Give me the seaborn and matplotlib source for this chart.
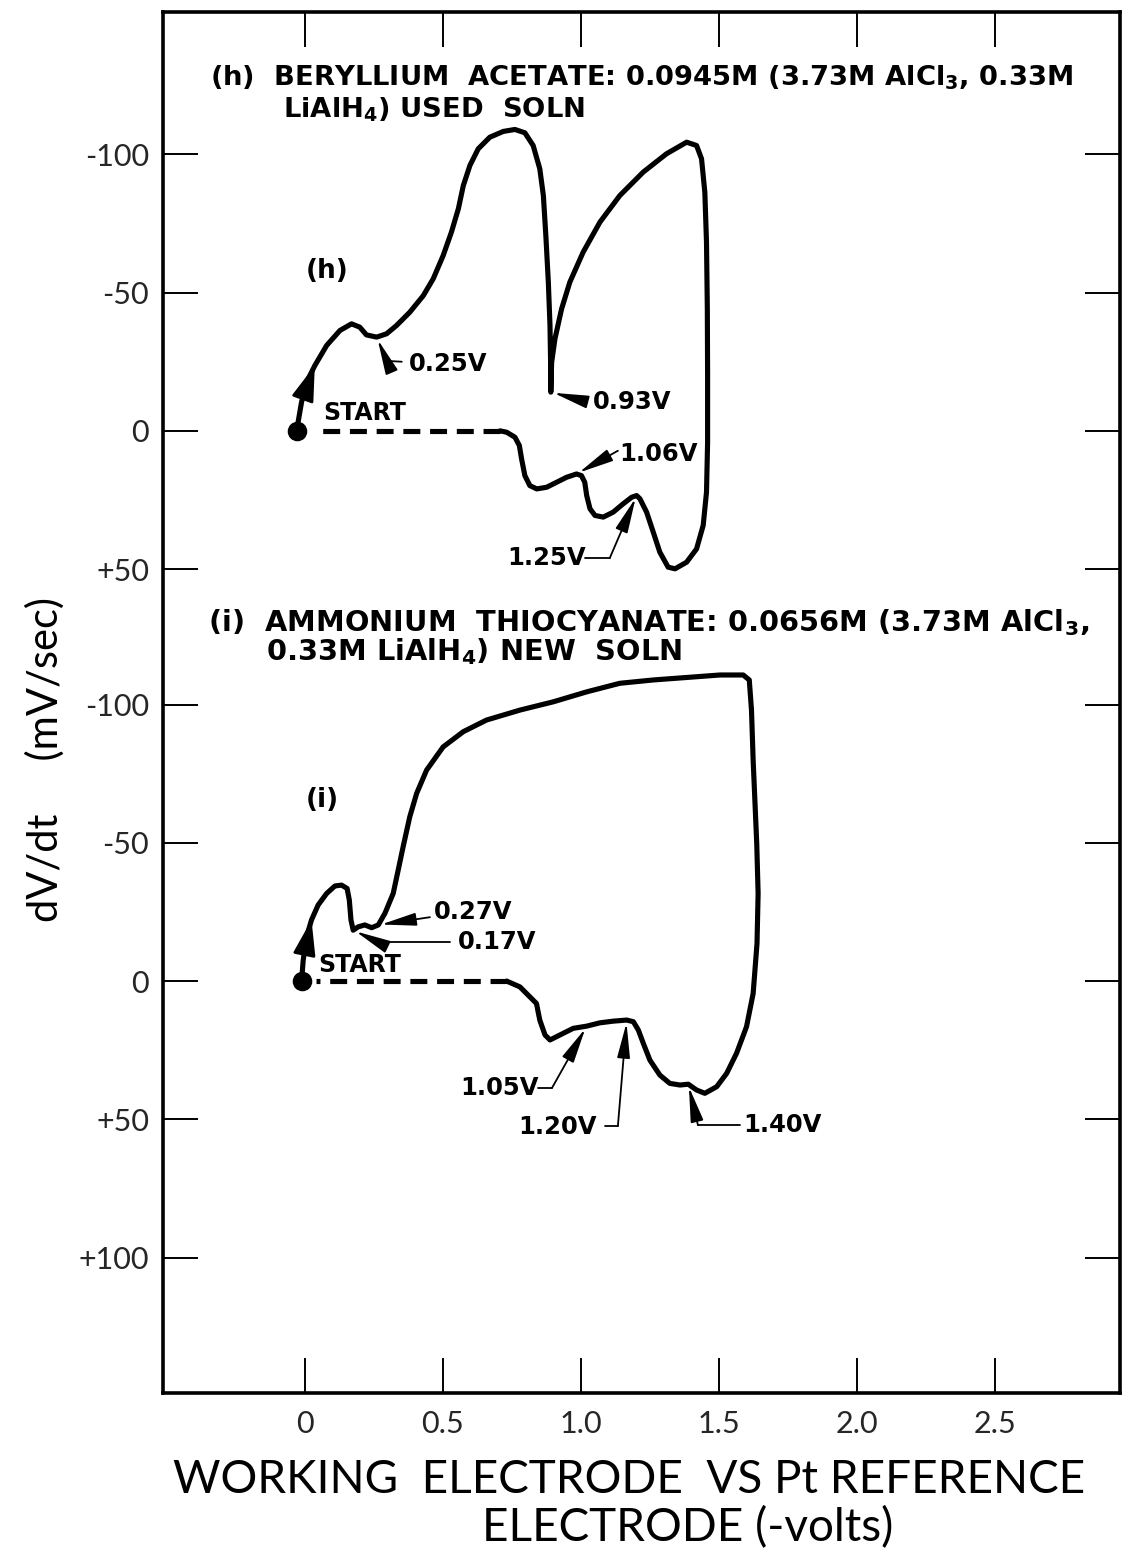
import numpy as np
import pandas as pd
import matplotlib
matplotlib.use("Agg")
import matplotlib.pyplot as plt
import seaborn as sns

# ---- trace (h): beryllium acetate, used solution ----
h_volts = [-0.030, -0.012, 0.006, 0.036, 0.079, 0.127, 0.169, 0.199, 0.223, 0.260,
           0.296, 0.332, 0.380, 0.429, 0.465, 0.501, 0.531, 0.556, 0.574, 0.598,
           0.628, 0.670, 0.719, 0.761, 0.797, 0.827, 0.851, 0.864, 0.873, 0.882,
           0.888, 0.890, 0.891, 0.894, 0.906, 0.930, 0.960, 1.008, 1.069, 1.141,
           1.226, 1.310, 1.383, 1.419, 1.437, 1.449, 1.455, 1.458, 1.459, 1.459,
           1.455, 1.443, 1.419, 1.383, 1.341, 1.316, 1.286, 1.262, 1.238, 1.214,
           1.202, 1.184, 1.153, 1.117, 1.081, 1.051, 1.033, 1.021, 1.014, 1.002,
           0.984, 0.948, 0.912, 0.876, 0.840, 0.815, 0.797, 0.785, 0.777, 0.761,
           0.731, 0.707]
h_rate = [0.0, -10.4, -17.6, -23.6, -30.9, -36.3, -38.7, -37.5, -34.7, -33.9,
          -35.1, -38.1, -42.9, -48.9, -55.0, -63.4, -71.9, -80.3, -88.7, -96.0,
          -102.0, -106.2, -108.3, -109.0, -107.8, -103.2, -94.8, -85.1, -70.6, -53.8,
          -38.1, -26.0, -14.0, -24.8, -33.3, -44.1, -53.8, -64.6, -75.5, -85.1,
          -93.6, -100.2, -104.4, -103.2, -98.4, -86.3, -68.2, -44.1, -20.0, 4.1,
          22.2, 34.2, 42.7, 47.5, 49.9, 49.3, 43.9, 36.6, 29.4, 24.6,
          23.4, 24.0, 26.4, 29.4, 31.2, 30.6, 28.2, 23.4, 18.6, 16.2,
          15.6, 16.8, 18.6, 20.4, 21.0, 19.8, 16.2, 10.1, 5.3, 2.3,
          0.5, 0.0]
h_return_volts = [0.707, 0.054]
h_return_rate = [0.0, 0.0]

# ---- trace (i): ammonium thiocyanate, new solution ----
i_volts = [-0.012, -0.006, 0.006, 0.024, 0.048, 0.079, 0.109, 0.133, 0.153, 0.161,
           0.167, 0.175, 0.193, 0.217, 0.242, 0.266, 0.290, 0.320, 0.338, 0.356,
           0.380, 0.405, 0.441, 0.501, 0.574, 0.658, 0.779, 0.900, 1.021, 1.141,
           1.262, 1.383, 1.504, 1.588, 1.610, 1.618, 1.624, 1.637, 1.642, 1.638,
           1.624, 1.600, 1.564, 1.528, 1.492, 1.449, 1.419, 1.389, 1.359, 1.322,
           1.286, 1.250, 1.226, 1.208, 1.190, 1.166, 1.117, 1.069, 1.021, 0.972,
           0.924, 0.888, 0.870, 0.851, 0.839, 0.815, 0.779, 0.731]
i_rate = [0.0, -7.6, -16.0, -22.1, -27.5, -31.7, -34.4, -34.7, -33.5, -29.3,
          -22.1, -18.4, -19.6, -20.3, -19.3, -20.3, -24.5, -31.7, -40.1, -48.6,
          -59.4, -67.9, -76.3, -84.7, -90.2, -94.4, -98.0, -101.0, -104.6, -107.7,
          -108.9, -109.8, -110.7, -110.7, -108.9, -98.0, -79.9, -49.8, -31.7, -13.6,
          4.5, 16.5, 26.1, 33.4, 38.2, 40.6, 39.4, 37.3, 37.6, 37.0,
          34.0, 28.6, 22.5, 17.7, 14.7, 14.1, 14.5, 15.1, 16.3, 17.1,
          19.5, 21.3, 19.5, 14.1, 8.1, 5.7, 2.1, 0.0]
i_return_volts = [0.731, 0.042]
i_return_rate = [0.0, 0.0]

# voltages marked on each trace, and the trace point each one refers to
h_marks = ["0.25V", "0.93V", "1.06V", "1.25V"]
h_mark_idx = [9, 32, 70, 60]
i_marks = ["0.27V", "0.17V", "1.05V", "1.20V", "1.40V"]
i_mark_idx = [15, 11, 58, 55, 47]

rate_ticks = [-100, -50, 0, 50, 100]
x_ticks = [0, 0.5, 1.0, 1.5, 2.0, 2.5]
x_tick_labels = ["0", "0.5", "1.0", "1.5", "2.0", "2.5"]

sns.set_theme(style="white")
plt.rcParams["font.family"] = ["Lato", "DejaVu Sans"]
plt.rcParams["mathtext.fontset"] = "dejavusans"

H_SHIFT = -199.0   # trace (h) sits above trace (i) on the shared axis
LW = 3.7
INK = "black"
BOLD = ["DejaVu Sans"]

fig = plt.figure(figsize=(11.28, 15.53), dpi=100)
ax = fig.add_axes([0.1445, 0.1030, 0.8484, 0.8893])


def draw_trace(volts, rate, ret_v, ret_r, shift):
    rate = np.asarray(rate, dtype=float)
    df = pd.DataFrame({"volts": volts, "s": rate + shift})
    sns.lineplot(data=df, x="volts", y="s", sort=False, estimator=None,
                 color=INK, lw=LW, ax=ax, solid_capstyle="round",
                 solid_joinstyle="round")
    dfr = pd.DataFrame({"volts": ret_v, "s": np.asarray(ret_r, dtype=float) + shift})
    sns.lineplot(data=dfr, x="volts", y="s", sort=False, estimator=None,
                 color=INK, lw=LW, linestyle=(0, (3.3, 1.9)), ax=ax)
    sns.scatterplot(x=[volts[0]], y=[rate[0] + shift], s=170, color=INK,
                    edgecolor=INK, ax=ax, zorder=5)
    # direction arrow on the rising start of the sweep
    ax.annotate("", xy=(volts[3], rate[3] + shift),
                xytext=(volts[1], rate[1] + shift),
                arrowprops=dict(arrowstyle="-|>,head_length=1.1,head_width=0.35",
                                mutation_scale=20, color=INK, lw=2.0,
                                shrinkA=0, shrinkB=0))


def mark(label, target, text_xy, leader, shift):
    tx, ty = text_xy
    ax.text(tx, ty + shift, label, ha="left", va="center", fontsize=17.5,
            fontweight="bold", family=BOLD, color=INK)
    pts = [(x, y + shift) for x, y in leader]
    if len(pts) > 1:
        ax.plot([p[0] for p in pts], [p[1] for p in pts], color=INK, lw=1.3)
    ax.annotate("", xy=target, xytext=pts[-1],
                arrowprops=dict(arrowstyle="-|>,head_length=1.2,head_width=0.22",
                                mutation_scale=18, color=INK, lw=1.3,
                                shrinkA=0, shrinkB=2))


draw_trace(h_volts, h_rate, h_return_volts, h_return_rate, H_SHIFT)
draw_trace(i_volts, i_rate, i_return_volts, i_return_rate, 0.0)

# label placement for the marked voltages: text anchor, then leader corners
h_layout = [((0.377, -24.2), [(0.351, -25.0), (0.297, -25.3)]),
            ((1.043, -10.5), [(1.022, -10.5)]),
            ((1.138, 8.3), [(1.134, 7.2)]),
            ((0.732, 45.9), [(1.014, 45.9), (1.105, 45.9)])]
i_layout = [((0.467, -25.0), [(0.453, -23.1)]),
            ((0.554, -14.1), [(0.525, -14.1), (0.264, -14.1)]),
            ((0.562, 38.7), [(0.844, 38.7), (0.895, 38.7)]),
            ((0.772, 52.8), [(1.087, 52.4), (1.134, 52.4)]),
            ((1.587, 52.1), [(1.576, 52.1), (1.424, 52.1)])]

for lab, idx, (txy, leader) in zip(h_marks, h_mark_idx, h_layout):
    mark(lab, (h_volts[idx], h_rate[idx] + H_SHIFT), txy, leader, H_SHIFT)
for lab, idx, (txy, leader) in zip(i_marks, i_mark_idx, i_layout):
    mark(lab, (i_volts[idx], i_rate[idx]), txy, leader, 0.0)

# trace titles and tags
title_kw = dict(ha="left", va="center", fontweight="bold", family=BOLD, color=INK)
ax.text(-0.344, -127.7 + H_SHIFT,
        r"(h)  BERYLLIUM  ACETATE: 0.0945M (3.73M AlCl$\mathbf{_3}$, 0.33M",
        fontsize=19.7, **title_kw)
ax.text(-0.080, -116.1 + H_SHIFT, r"LiAlH$\mathbf{_4}$) USED  SOLN",
        fontsize=19.7, **title_kw)
ax.text(-0.351, -129.5,
        r"(i)  AMMONIUM  THIOCYANATE: 0.0656M (3.73M AlCl$\mathbf{_3}$,",
        fontsize=20.8, **title_kw)
ax.text(-0.141, -119.3, r"0.33M LiAlH$\mathbf{_4}$) NEW  SOLN",
        fontsize=20.8, **title_kw)

tag_kw = dict(ha="center", va="center", fontsize=19, fontweight="bold",
              family=BOLD, color=INK)
ax.text(0.080, -57.9 + H_SHIFT, "(h)", **tag_kw)
ax.text(0.062, -65.5, "(i)", **tag_kw)
start_kw = dict(ha="left", va="center", fontsize=17, fontweight="bold",
                family=BOLD, color=INK)
ax.text(0.065, -6.5 + H_SHIFT, "START", **start_kw)
ax.text(0.047, -5.8, "START", **start_kw)

# axes: shared voltage axis, two stacked dV/dt scales
ax.set_xlim(-0.514, 2.953)
ax.set_ylim(149.0, -350.5)
ytick_pos = [v + H_SHIFT for v in rate_ticks[:4]] + list(rate_ticks)


def fmt(v):
    return "+%d" % v if v > 0 else "%d" % v


ytick_lab = [fmt(v) for v in rate_ticks[:4]] + [fmt(v) for v in rate_ticks]
ax.set_yticks(ytick_pos)
ax.set_yticklabels(ytick_lab, fontsize=22)
ax.set_xticks(x_ticks)
ax.set_xticklabels(x_tick_labels, fontsize=22)
ax.tick_params(axis="both", direction="in", length=25, width=1.4, color=INK,
               bottom=True, top=True, left=True, right=True,
               labelbottom=True, labelleft=True, labeltop=False, labelright=False)
ax.tick_params(axis="y", pad=10)
ax.tick_params(axis="x", pad=12)
ax.set_xlabel("")
ax.set_ylabel("")
for sp in ax.spines.values():
    sp.set_visible(True)
    sp.set_color(INK)
    sp.set_linewidth(2.6)
ax.grid(False)
ax.set_facecolor("white")

fig.text(0.558, 0.047, "WORKING  ELECTRODE  VS Pt REFERENCE", ha="center",
         va="center", fontsize=33, color=INK)
fig.text(0.610, 0.016, "ELECTRODE (-volts)", ha="center", va="center",
         fontsize=33, color=INK)
fig.text(0.040, 0.511, "dV/dt     (mV/sec)", ha="center", va="center",
         rotation=90, fontsize=30, color=INK)

fig.savefig("out.png", dpi=100, facecolor="white")
